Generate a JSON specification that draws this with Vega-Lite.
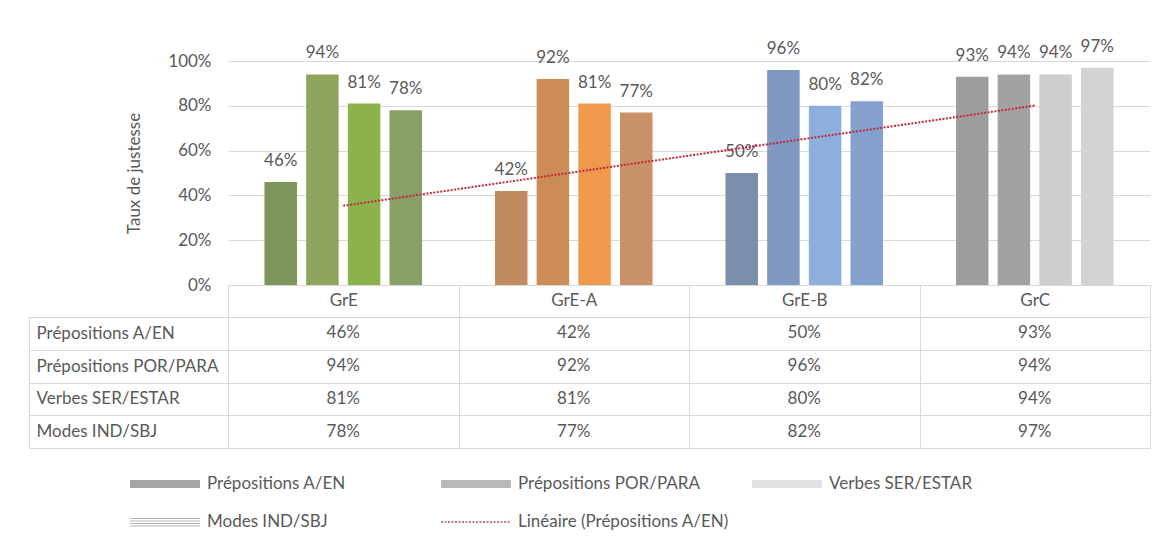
{
  "$schema": "https://vega.github.io/schema/vega-lite/v6.json",
  "background": "white",
  "padding": {"left": 28, "top": 37, "right": 4, "bottom": 4},
  "config": {
    "font": "Lato",
    "view": {"stroke": null},
    "axis": {
      "labelFont": "Lato", "labelColor": "#595959", "labelFontSize": 17,
      "titleFont": "Lato", "titleColor": "#595959", "titleFontWeight": "normal", "titleFontSize": 17,
      "gridColor": "#d9d9d9", "domainColor": "#d9d9d9", "tickColor": "#d9d9d9"
    },
    "legend": {"labelFont": "Lato", "labelColor": "#595959", "labelFontSize": 17},
    "text": {"font": "Lato", "fontSize": 17, "color": "#595959"}
  },
  "datasets": {
    "main": [
      {"groupe": "GrE", "idx": 1, "serie": "Prépositions A/EN", "taux": 0.46},
      {"groupe": "GrE", "idx": 1, "serie": "Prépositions POR/PARA", "taux": 0.94},
      {"groupe": "GrE", "idx": 1, "serie": "Verbes SER/ESTAR", "taux": 0.81},
      {"groupe": "GrE", "idx": 1, "serie": "Modes IND/SBJ", "taux": 0.78},
      {"groupe": "GrE-A", "idx": 2, "serie": "Prépositions A/EN", "taux": 0.42},
      {"groupe": "GrE-A", "idx": 2, "serie": "Prépositions POR/PARA", "taux": 0.92},
      {"groupe": "GrE-A", "idx": 2, "serie": "Verbes SER/ESTAR", "taux": 0.81},
      {"groupe": "GrE-A", "idx": 2, "serie": "Modes IND/SBJ", "taux": 0.77},
      {"groupe": "GrE-B", "idx": 3, "serie": "Prépositions A/EN", "taux": 0.50},
      {"groupe": "GrE-B", "idx": 3, "serie": "Prépositions POR/PARA", "taux": 0.96},
      {"groupe": "GrE-B", "idx": 3, "serie": "Verbes SER/ESTAR", "taux": 0.80},
      {"groupe": "GrE-B", "idx": 3, "serie": "Modes IND/SBJ", "taux": 0.82},
      {"groupe": "GrC", "idx": 4, "serie": "Prépositions A/EN", "taux": 0.93},
      {"groupe": "GrC", "idx": 4, "serie": "Prépositions POR/PARA", "taux": 0.94},
      {"groupe": "GrC", "idx": 4, "serie": "Verbes SER/ESTAR", "taux": 0.94},
      {"groupe": "GrC", "idx": 4, "serie": "Modes IND/SBJ", "taux": 0.97}
    ]
  },
  "spacing": -10,
  "vconcat": [
    {
      "width": 922,
      "height": 224,
      "data": {"name": "main"},
      "transform": [{"calculate": "datum.groupe + ' | ' + datum.serie", "as": "cle"}],
      "layer": [
        {
          "encoding": {
            "x": {
              "field": "groupe", "type": "nominal",
              "sort": ["GrE", "GrE-A", "GrE-B", "GrC"],
              "scale": {"paddingInner": 0, "paddingOuter": 0},
              "axis": {
                "title": null, "labelAngle": 0, "tickBand": "extent", "tickSize": 31,
                "labelPadding": -16, "labelBaseline": "middle", "domain": true, "grid": false
              }
            },
            "xOffset": {
              "field": "serie", "type": "nominal",
              "sort": ["Prépositions A/EN", "Prépositions POR/PARA", "Verbes SER/ESTAR", "Modes IND/SBJ"],
              "scale": {"paddingInner": 0.22, "paddingOuter": 0.875}
            },
            "y": {
              "field": "taux", "type": "quantitative",
              "scale": {"domain": [0, 1], "nice": false},
              "axis": {
                "title": "Taux de justesse", "format": ".0%", "values": [0, 0.2, 0.4, 0.6, 0.8, 1],
                "ticks": false, "domain": false, "labelPadding": 17, "titlePadding": 24, "grid": true
              }
            }
          },
          "layer": [
            {
              "mark": {"type": "bar"},
              "encoding": {
                "color": {
                  "field": "cle", "type": "nominal", "legend": null,
                  "scale": {
                    "domain": [
                      "GrE | Prépositions A/EN", "GrE | Prépositions POR/PARA", "GrE | Verbes SER/ESTAR", "GrE | Modes IND/SBJ",
                      "GrE-A | Prépositions A/EN", "GrE-A | Prépositions POR/PARA", "GrE-A | Verbes SER/ESTAR", "GrE-A | Modes IND/SBJ",
                      "GrE-B | Prépositions A/EN", "GrE-B | Prépositions POR/PARA", "GrE-B | Verbes SER/ESTAR", "GrE-B | Modes IND/SBJ",
                      "GrC | Prépositions A/EN", "GrC | Prépositions POR/PARA", "GrC | Verbes SER/ESTAR", "GrC | Modes IND/SBJ"
                    ],
                    "range": [
                      "#7e965b", "#8fa45c", "#8cb24b", "#889f66",
                      "#c18b60", "#cd8c55", "#ef994c", "#c99169",
                      "#7b8fab", "#7f98c2", "#8eafdc", "#84a0cf",
                      "#9d9d9d", "#a2a2a2", "#cecece", "#d3d3d3"
                    ]
                  }
                }
              }
            },
            {
              "mark": {"type": "text", "baseline": "middle", "dy": -21},
              "encoding": {
                "text": {"field": "taux", "type": "quantitative", "format": ".0%"}
              }
            },
            {
              "transform": [{"filter": "false"}],
              "mark": {"type": "point", "filled": true, "size": 400, "strokeWidth": 0},
              "encoding": {
                "fill": {
                  "field": "serie", "type": "nominal",
                  "scale": {
                    "domain": ["Prépositions A/EN", "Prépositions POR/PARA", "Verbes SER/ESTAR", "Modes IND/SBJ", "Linéaire (Prépositions A/EN)"],
                    "range": ["#a6a6a6", "#b8b8b8", "#e0e0e0", "#b5b5b5", "#b05060"]
                  },
                  "legend": {
                    "title": null, "orient": "none", "legendX": -98, "legendY": 413, "direction": "horizontal",
                    "columns": 3, "symbolSize": 400, "labelOffset": 57, "columnPadding": 23, "symbolOpacity": 1,
                    "rowPadding": 20, "gridAlign": "all", "labelLimit": 400, "symbolStrokeWidth": 0
                  }
                },
                "shape": {
                  "field": "serie", "type": "nominal",
                  "scale": {
                    "domain": ["Prépositions A/EN", "Prépositions POR/PARA", "Verbes SER/ESTAR", "Modes IND/SBJ", "Linéaire (Prépositions A/EN)"],
                    "range": [
                      "M-1,-0.4H6V0.4H-1Z",
                      "M-1,-0.4H6V0.4H-1Z",
                      "M-1,-0.4H6V0.4H-1Z",
                      "M-1,-0.4H6V-0.3H-1Z M-1,-0.15H6V-0.05H-1Z M-1,0.1H6V0.2H-1Z M-1,0.35H6V0.45H-1Z",
                      "M-1,-0.07h0.2v0.15h-0.2v-0.15z m0.35,0h0.2v0.15h-0.2v-0.15z m0.35,0h0.2v0.15h-0.2v-0.15z m0.35,0h0.2v0.15h-0.2v-0.15z m0.35,0h0.2v0.15h-0.2v-0.15z m0.35,0h0.2v0.15h-0.2v-0.15z m0.35,0h0.2v0.15h-0.2v-0.15z m0.35,0h0.2v0.15h-0.2v-0.15z m0.35,0h0.2v0.15h-0.2v-0.15z m0.35,0h0.2v0.15h-0.2v-0.15z m0.35,0h0.2v0.15h-0.2v-0.15z m0.35,0h0.2v0.15h-0.2v-0.15z m0.35,0h0.2v0.15h-0.2v-0.15z m0.35,0h0.2v0.15h-0.2v-0.15z m0.35,0h0.2v0.15h-0.2v-0.15z m0.35,0h0.2v0.15h-0.2v-0.15z m0.35,0h0.2v0.15h-0.2v-0.15z m0.35,0h0.2v0.15h-0.2v-0.15z m0.35,0h0.2v0.15h-0.2v-0.15z m0.35,0h0.2v0.15h-0.2v-0.15z"
                    ]
                  },
                  "legend": {
                    "title": null, "orient": "none", "legendX": -98, "legendY": 413, "direction": "horizontal",
                    "columns": 3, "symbolSize": 400, "labelOffset": 57, "columnPadding": 23, "symbolOpacity": 1,
                    "rowPadding": 20, "gridAlign": "all", "labelLimit": 400, "symbolStrokeWidth": 0
                  }
                }
              }
            }
          ]
        },
        {
          "transform": [
            {"filter": "datum.serie === 'Prépositions A/EN'"},
            {"regression": "taux", "on": "idx", "extent": [1, 4]}
          ],
          "mark": {"type": "line", "color": "#c0283c", "strokeDash": [2, 1.5], "strokeWidth": 2},
          "encoding": {
            "x": {"field": "idx", "type": "quantitative", "scale": {"domain": [0.5, 4.5], "nice": false, "zero": false}, "axis": null},
            "y": {"field": "taux", "type": "quantitative"}
          }
        }
      ],
      "resolve": {"scale": {"x": "independent"}}
    },
    {
      "width": 922,
      "height": 131,
      "view": {"stroke": "#d9d9d9"},
      "data": {"name": "main"},
      "mark": {"type": "text"},
      "encoding": {
        "x": {
          "field": "groupe", "type": "nominal",
          "sort": ["GrE", "GrE-A", "GrE-B", "GrC"],
          "scale": {"paddingInner": 0, "paddingOuter": 0},
          "axis": {"orient": "bottom", "title": null, "labels": false, "ticks": false, "domain": false, "grid": true, "tickBand": "extent"}
        },
        "y": {
          "field": "serie", "type": "nominal",
          "sort": ["Prépositions A/EN", "Prépositions POR/PARA", "Verbes SER/ESTAR", "Modes IND/SBJ"],
          "scale": {"paddingInner": 0, "paddingOuter": 0},
          "axis": {
            "title": null, "grid": true, "tickBand": "extent", "offset": 199, "tickSize": -199,
            "labelAlign": "left", "labelPadding": 192, "domain": true, "labelLimit": 400
          }
        },
        "text": {"field": "taux", "type": "quantitative", "format": ".0%"}
      }
    }
  ]
}
